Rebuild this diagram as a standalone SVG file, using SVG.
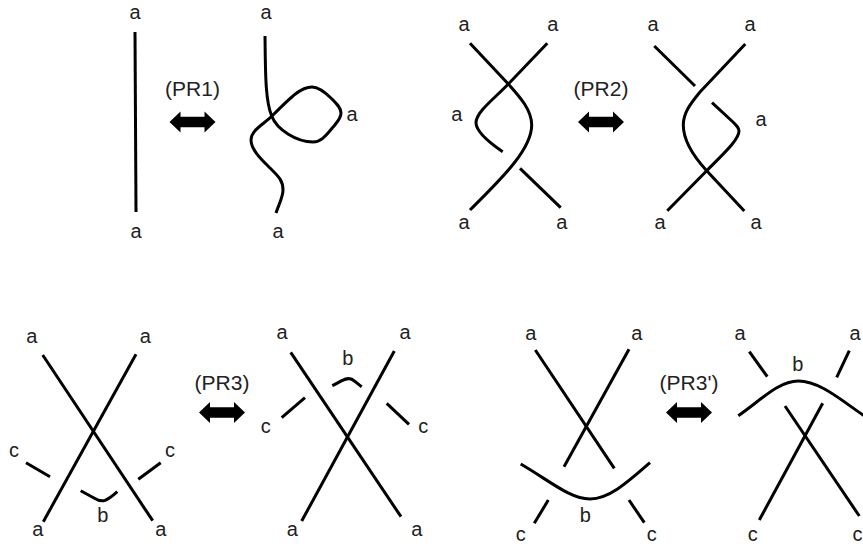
<svg xmlns="http://www.w3.org/2000/svg" width="863" height="544" viewBox="0 0 863 544">
<style>
.s{fill:none;stroke:#000;stroke-width:3;stroke-linejoin:round}
text{font-family:"Liberation Sans",Arial,sans-serif;font-size:20px;fill:#222;text-anchor:middle}
.r{font-size:21px}
</style>
<defs><path id="arrow" d="M-23 0L-12 -10.5V-5.3H12V-10.5L23 0L12 10.5V5.3H-12V10.5Z" fill="#000"/></defs>
<rect width="863" height="544" fill="#fff"/>
<g id="connectors">
<path class="s" d="M135 32L136 212"/>
<path class="s" d="M265 36C265.500 70 265 100 271.700 116C277 130 297 142 313 142C322 142 327 134 334 126C338 121 341 118 341 113C341 108 337 104 332 99C326 93 319 87 312 87C301 87 292 96 272 116C264 124 251 130 251 140C251 150 262 160 270 168C278 176 283 180 283 190C283 197 279 204 276 213"/>
<path class="s" d="M470 43.300L508.300 84C520 97 531.700 110 531.700 125C531.700 150 500 180 470 210"/>
<path class="s" d="M547.300 43.300L508.300 84C495 98 476 112 476 122.700C476 132 490 143 502.700 151.700"/>
<path class="s" d="M520 168.300L560.700 207.700"/>
<path class="s" d="M654.300 46L695 86"/>
<path class="s" d="M745.300 44L700 92C692 102 683.300 112 683.300 125C683.300 142 695 158 706.700 170.700L744.300 211"/>
<path class="s" d="M712 102.700L733 122C737 126 739 128 739 131C739 140 722 155 706.700 170.700L667.300 210.700"/>
<path class="s" d="M42.700 355L152.700 520.700"/>
<path class="s" d="M136 354.300L43.300 521.700"/>
<path class="s" d="M26 462.700L50 476.700"/>
<path class="s" d="M138.300 479.300L160.700 462.700"/>
<path class="s" d="M80.700 490.700L94 498C102 503 106 502 117.300 491.700"/>
<path class="s" d="M290.700 352.300L401 516.700"/>
<path class="s" d="M394.300 351L301.700 521"/>
<path class="s" d="M332.300 385.700C342 381 346 377 351 379C354 380 358 384 361.700 386.700"/>
<path class="s" d="M281.700 417.700L305 397.700"/>
<path class="s" d="M386.700 403.300L409 424.300"/>
<path class="s" d="M535.300 350L614.300 468.300"/>
<path class="s" d="M629 349.300L564 466.700"/>
<path class="s" d="M520.700 464C550 481 570 499 590 499C610 499 630 480 650 462.700"/>
<path class="s" d="M548.300 500L534.300 523.300"/>
<path class="s" d="M629 500L644.300 522.700"/>
<path class="s" d="M749.300 351.700L767.300 376.700"/>
<path class="s" d="M849.300 350.700L836.700 377.300"/>
<path class="s" d="M738.300 415.700C760 401 778 381 798.300 381C820 381 842 401 866 417"/>
<path class="s" d="M785 406L859.300 516"/>
<path class="s" d="M822.700 403.300L759.300 520"/>
</g>
<g id="pr1">
<text x="135" y="19">a</text><text x="136" y="238">a</text>
<text x="266" y="19">a</text><text x="352" y="121">a</text><text x="278" y="238">a</text>
<text class="r" x="192.500" y="96">(PR1)</text><use href="#arrow" x="192.500" y="122"/>
</g>
<g id="pr2">
<text x="464" y="31">a</text><text x="552.700" y="31">a</text><text x="456.700" y="121">a</text><text x="464" y="229">a</text><text x="561.700" y="229">a</text>
<text x="653" y="31">a</text><text x="750" y="31">a</text><text x="761" y="126">a</text><text x="660" y="229">a</text><text x="756" y="229">a</text>
<text class="r" x="601" y="96">(PR2)</text><use href="#arrow" x="601" y="122"/>
</g>
<g id="pr3">
<text x="31.700" y="343">a</text><text x="145.300" y="343">a</text><text x="14" y="457">c</text><text x="170" y="457">c</text><text x="102.700" y="522">b</text><text x="37.700" y="536">a</text><text x="160.700" y="536">a</text>
<text x="282" y="339">a</text><text x="405" y="339">a</text><text x="347.700" y="365">b</text><text x="265.700" y="433">c</text><text x="423.300" y="433">c</text><text x="292.300" y="536">a</text><text x="416.700" y="536">a</text>
<text class="r" x="222" y="390">(PR3)</text><use href="#arrow" x="222" y="412.500"/>
</g>
<g id="pr3prime">
<text x="530.700" y="340">a</text><text x="636.700" y="340">a</text><text x="585.300" y="522">b</text><text x="520.700" y="541">c</text><text x="651.700" y="541">c</text>
<text x="740" y="340">a</text><text x="855" y="340">a</text><text x="797.700" y="371">b</text><text x="752.700" y="541">c</text><text x="857.500" y="541">c</text>
<text class="r" x="689" y="390">(PR3')</text><use href="#arrow" x="689" y="412.500"/>
</g>
</svg>
